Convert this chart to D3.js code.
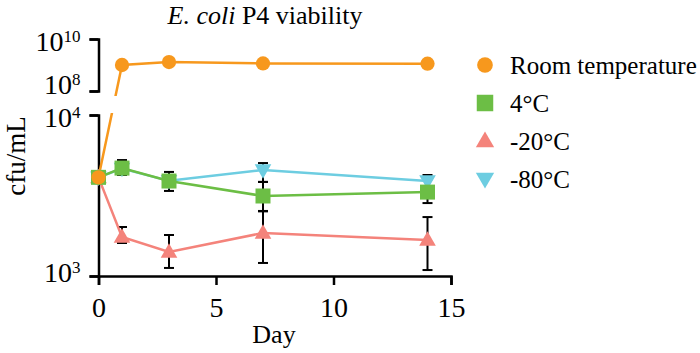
<!DOCTYPE html>
<html>
<head>
<meta charset="utf-8">
<script src="https://cdn.jsdelivr.net/npm/d3@7"></script>
<style>
  body { margin: 0; background: #fff; }
  svg, svg text { font-family: "Liberation Serif", "DejaVu Serif", serif; }
</style>
</head>
<body>
<svg id="canvas"></svg>
<script>
const width = 700;
const height = 353;
const serif = '"Liberation Serif", "DejaVu Serif", serif';

// data
const days = [0, 1, 3, 7, 14];
const seriesNames = ['Room temperature', '4°C', '-20°C', '-80°C'];
const seriesColors = ['#F7981D', '#6CBE45', '#F4837B', '#6DCDE1'];

const roomTemp = [4100, 1.0e9, 1.3e9, 1.15e9, 1.12e9];
const fourC = [4100, 4680, 3890, 3140, 3320];
const minus20 = [4100, 1750, 1410, 1850, 1675];
const minus80 = [4100, 4650, 3900, 4550, 3890];

const fourCLow = [null, 4240, 3375, 2535, 2838];
const fourCHigh = [null, 5250, 4430, 3840, 4065];
const minus20Low = [null, 1603, 1122, 1205, 1089];
const minus20High = [null, 2015, 1798, 2520, 2323];
const minus80Low = [null, null, null, 3840, 3990];
const minus80High = [null, null, null, 5030, 4240];

const topTicks = [1e8, 1e10];
const bottomTicks = [1e3, 1e4];
const xTicks = [0, 5, 10, 15];

const svg = d3.select('#canvas')
    .attr('width', width)
    .attr('height', height)

const xScale = d3.scaleLinear().domain([0, 15]).range([98.5, 451])
const yTop = d3.scaleLog().domain([1e8, 1e10]).range([91, 39])
const yBottom = d3.scaleLog().domain([1e3, 1e4]).range([276, 115])
const yAny = v => v >= 1e6 ? yTop(v) : yBottom(v)

const defs = svg.append('defs')
defs.append('clipPath').attr('id', 'clip-top')
    .append('rect').attr('x', 90).attr('y', 0).attr('width', 380).attr('height', 96)
defs.append('clipPath').attr('id', 'clip-bottom')
    .append('rect').attr('x', 90).attr('y', 113).attr('width', 380).attr('height', 180)

// axes
const styleAxis = g => {
    g.attr('font-family', serif).attr('font-size', 28)
    g.selectAll('path, line').attr('stroke', '#000').attr('stroke-width', 2.5)
    g.selectAll('text').attr('fill', '#000').attr('font-size', 28).attr('font-family', serif)
}

const powerLabels = (g, nudge) => {
    g.selectAll('.tick text')
        .text(null)
        .attr('x', -18)
        .attr('dy', d => (nudge[d] || 0) + 11)
        .each(function (d) {
            const t = d3.select(this)
            t.append('tspan').text('10')
            t.append('tspan').attr('dy', -9).attr('font-size', 17).text(Math.round(Math.log10(d)))
        })
}

svg.append('g')
    .attr('transform', 'translate(98.5,0)')
    .call(d3.axisLeft(yTop).tickValues(topTicks).tickSize(9))
    .call(styleAxis)
    .call(g => powerLabels(g, { 1e8: -9 }))

svg.append('g')
    .attr('transform', 'translate(98.5,0)')
    .call(d3.axisLeft(yBottom).tickValues(bottomTicks).tickSize(9))
    .call(styleAxis)
    .call(g => powerLabels(g, { 1e3: -6 }))

svg.append('g')
    .attr('transform', 'translate(0,276)')
    .call(d3.axisBottom(xScale).tickValues(xTicks).tickSize(9).tickPadding(12))
    .call(styleAxis)

// error bars
const errorSets = [
    { low: minus80Low, high: minus80High },
    { low: minus20Low, high: minus20High },
    { low: fourCLow, high: fourCHigh }
]
const errG = svg.append('g').attr('stroke', '#000').attr('stroke-width', 2)
errorSets.forEach(set => {
    days.forEach((day, i) => {
        if (set.low[i] == null) return
        const cx = xScale(day)
        const y1 = yBottom(set.low[i])
        const y2 = yBottom(set.high[i])
        errG.append('line').attr('x1', cx).attr('x2', cx).attr('y1', y1).attr('y2', y2)
        errG.append('line').attr('x1', cx - 5).attr('x2', cx + 5).attr('y1', y1).attr('y2', y1)
        errG.append('line').attr('x1', cx - 5).attr('x2', cx + 5).attr('y1', y2).attr('y2', y2)
    })
})

// series: drawn back to front
const series = [
    { values: minus80, color: seriesColors[3], shape: 'down' },
    { values: minus20, color: seriesColors[2], shape: 'up' },
    { values: fourC, color: seriesColors[1], shape: 'square' },
    { values: roomTemp, color: seriesColors[0], shape: 'circle' }
]

const line = d3.line().x(d => xScale(d.day)).y(d => yAny(d.value))

const symbolPath = shape => {
    if (shape === 'circle') return d3.symbol(d3.symbolCircle, 160)()
    if (shape === 'square') return d3.symbol(d3.symbolSquare, 225)()
    return d3.symbol(d3.symbolTriangle, 120)()
}
const symbolTransform = (shape, x, y) =>
    shape === 'down' ? `translate(${x},${y - 1}) rotate(180)` :
    shape === 'up' ? `translate(${x},${y + 1})` : `translate(${x},${y})`

series.forEach(s => {
    const pts = days.map((day, i) => ({ day, value: s.values[i] }))
    ;['clip-top', 'clip-bottom'].forEach(c => {
        svg.append('path')
            .datum(pts)
            .attr('clip-path', `url(#${c})`)
            .attr('fill', 'none')
            .attr('stroke', s.color)
            .attr('stroke-width', 2.5)
            .attr('d', line)
    })
})

series.forEach(s => {
    svg.append('g').selectAll('path')
        .data(days.map((day, i) => ({ day, value: s.values[i] })))
        .enter()
        .append('path')
        .attr('d', symbolPath(s.shape))
        .attr('fill', s.color)
        .attr('transform', d => symbolTransform(s.shape, xScale(d.day), yAny(d.value)))
})

// title and axis labels
const title = svg.append('text')
    .attr('x', 265).attr('y', 24)
    .attr('text-anchor', 'middle')
    .attr('font-size', 26)
title.append('tspan').attr('font-style', 'italic').text('E. coli')
title.append('tspan').text(' P4 viability')

svg.append('text')
    .attr('x', 274).attr('y', 343)
    .attr('text-anchor', 'middle')
    .attr('font-size', 26)
    .text('Day')

svg.append('text')
    .attr('transform', 'translate(25,156) rotate(-90)')
    .attr('text-anchor', 'middle')
    .attr('font-size', 27)
    .text('cfu/mL')

// legend
const legendShapes = ['circle', 'square', 'up', 'down']
const legend = svg.append('g')
seriesNames.forEach((name, i) => {
    const ly = 65 + i * 38
    legend.append('path')
        .attr('d', symbolPath(legendShapes[i]))
        .attr('fill', seriesColors[i])
        .attr('transform', symbolTransform(legendShapes[i], 485, ly) + ' scale(1.1)')
    legend.append('text')
        .attr('x', 510).attr('y', ly + 9)
        .attr('font-size', 25)
        .text(name)
})
</script>
</body>
</html>
